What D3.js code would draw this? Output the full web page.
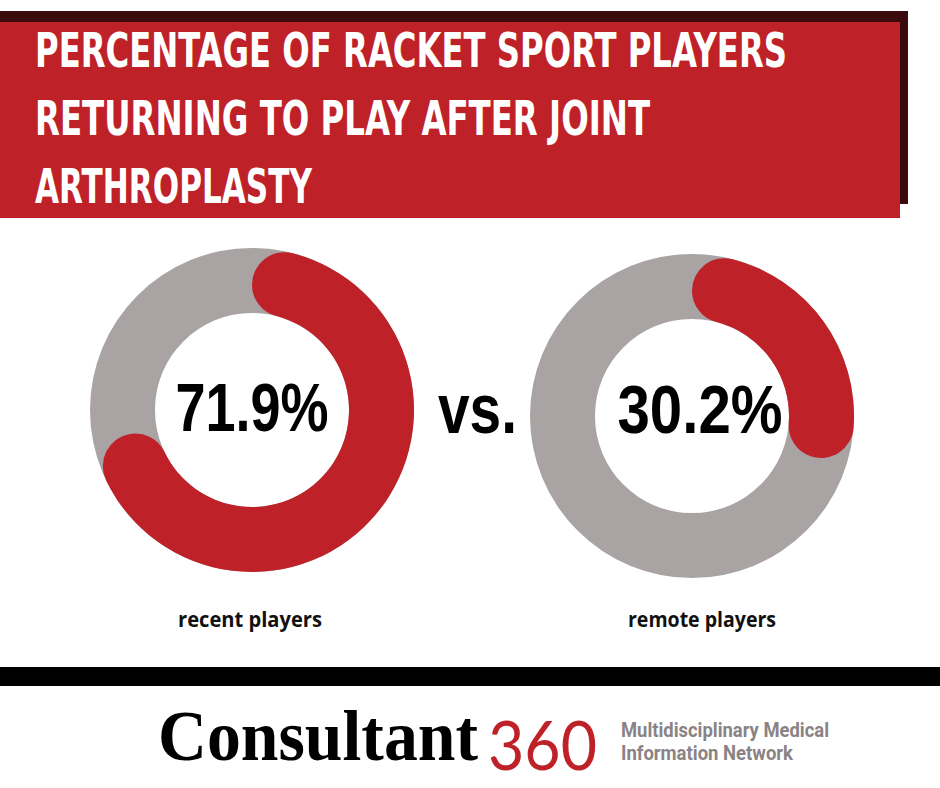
<!DOCTYPE html>
<html><head><meta charset="utf-8">
<script src="https://cdn.jsdelivr.net/npm/d3@7"></script>
<style>html,body{margin:0;padding:0;background:#fff;}svg{display:block;}</style>
</head><body>
<svg id="chart" width="940" height="788"></svg>
<script>
const titleLines = ["PERCENTAGE OF RACKET SPORT PLAYERS", "RETURNING TO PLAY AFTER JOINT", "ARTHROPLASTY"];
const categories = ["recent players", "remote players"];
const values = [71.9, 30.2];
const valueLabels = ["71.9%", "30.2%"];
const separator = "vs.";
const brand = ["Consultant", "360"];
const tagline = ["Multidisciplinary Medical", "Information Network"];

const RED = "#bf2129", GREY = "#a9a3a4", DARK = "#3b0a0c";
const svg = d3.select("#chart");

// Title banner
svg.append("rect").attr("x", 0).attr("y", 11).attr("width", 908).attr("height", 193).attr("fill", DARK);
svg.append("rect").attr("x", 0).attr("y", 22).attr("width", 900).attr("height", 196).attr("fill", RED);
const titleWidths = [752, 615, 277];
svg.selectAll("text.title").data(titleLines).join("text")
  .attr("class", "title")
  .attr("transform", (d, i) => `translate(35,${67 + i * 68}) scale(1,1.5)`)
  .attr("x", 0).attr("y", 0)
  .attr("font-family", "'Liberation Sans Narrow','DejaVu Sans Condensed','Liberation Sans',sans-serif")
  .attr("font-weight", 700).attr("font-size", 32)
  .attr("fill", "#fff")
  .attr("textLength", (d, i) => titleWidths[i]).attr("lengthAdjust", "spacingAndGlyphs")
  .text(d => d);

// Donuts
const angle = d3.scaleLinear().domain([0, 100]).range([0, 2 * Math.PI]);
const x = d3.scalePoint().domain(categories).range([252, 692]);
const cy = d3.scaleOrdinal().domain(categories).range([410, 416]);
const outerR = 162, innerR = 97;
const bgArc = d3.arc().innerRadius(innerR).outerRadius(outerR).startAngle(0).endAngle(2 * Math.PI);
const valArc = d3.arc().innerRadius(innerR).outerRadius(outerR).cornerRadius((outerR - innerR) / 2).startAngle(0);

const g = svg.selectAll("g.donut").data(categories).join("g")
  .attr("class", "donut")
  .attr("transform", d => `translate(${x(d)},${cy(d)})`);
g.append("path").attr("d", bgArc()).attr("fill", GREY);
g.append("path").attr("d", (d, i) => valArc({endAngle: angle(values[i])})).attr("fill", RED);

const numWidths = [153, 165];
g.append("text")
  .attr("x", (d, i) => i === 0 ? 0 : 8).attr("y", (d, i) => i === 0 ? 21 : 17)
  .attr("text-anchor", "middle")
  .attr("font-family", "'Liberation Sans Narrow','Liberation Sans',Arial,sans-serif")
  .attr("font-weight", 700).attr("font-size", 68).attr("fill", "#000")
  .attr("textLength", (d, i) => numWidths[i]).attr("lengthAdjust", "spacingAndGlyphs")
  .text((d, i) => valueLabels[i]);

const labelWidths = [144, 148];
svg.selectAll("text.cat").data(categories).join("text")
  .attr("class", "cat")
  .attr("x", (d, i) => i === 0 ? 250 : 702).attr("y", 627)
  .attr("text-anchor", "middle")
  .attr("font-family", "'Open Sans','Liberation Sans',sans-serif")
  .attr("font-weight", 700).attr("font-size", 21).attr("fill", "#111")
  .attr("textLength", (d, i) => labelWidths[i]).attr("lengthAdjust", "spacingAndGlyphs")
  .text(d => d);

svg.append("text").attr("x", 477.5).attr("y", 433).attr("text-anchor", "middle")
  .attr("font-family", "'Liberation Sans',Arial,sans-serif").attr("font-weight", 700)
  .attr("font-size", 70).attr("fill", "#000")
  .attr("textLength", 79).attr("lengthAdjust", "spacingAndGlyphs")
  .text(separator);

// Bottom bar
svg.append("rect").attr("x", 0).attr("y", 667).attr("width", 940).attr("height", 19).attr("fill", "#000");

// Logo
svg.append("text").attr("x", 158).attr("y", 760)
  .attr("font-family", "'Liberation Serif','DejaVu Serif',serif").attr("font-weight", 700)
  .attr("font-size", 72).attr("fill", "#000")
  .attr("textLength", 320).attr("lengthAdjust", "spacingAndGlyphs")
  .text(brand[0]);
svg.append("text").attr("x", 488).attr("y", 770)
  .attr("font-family", "Lato,'Open Sans',sans-serif").attr("font-weight", 400)
  .attr("font-size", 68).attr("fill", RED)
  .attr("textLength", 109).attr("lengthAdjust", "spacingAndGlyphs")
  .text(brand[1]);
const tagWidths = [208, 172];
svg.selectAll("text.tag").data(tagline).join("text")
  .attr("class", "tag")
  .attr("x", 621).attr("y", (d, i) => 737 + i * 23)
  .attr("font-family", "'Liberation Sans Narrow','Roboto','Liberation Sans',sans-serif")
  .attr("font-weight", 700).attr("font-size", 21).attr("fill", "#8a8385")
  .attr("textLength", (d, i) => tagWidths[i]).attr("lengthAdjust", "spacingAndGlyphs")
  .text(d => d);
</script>
</body></html>
